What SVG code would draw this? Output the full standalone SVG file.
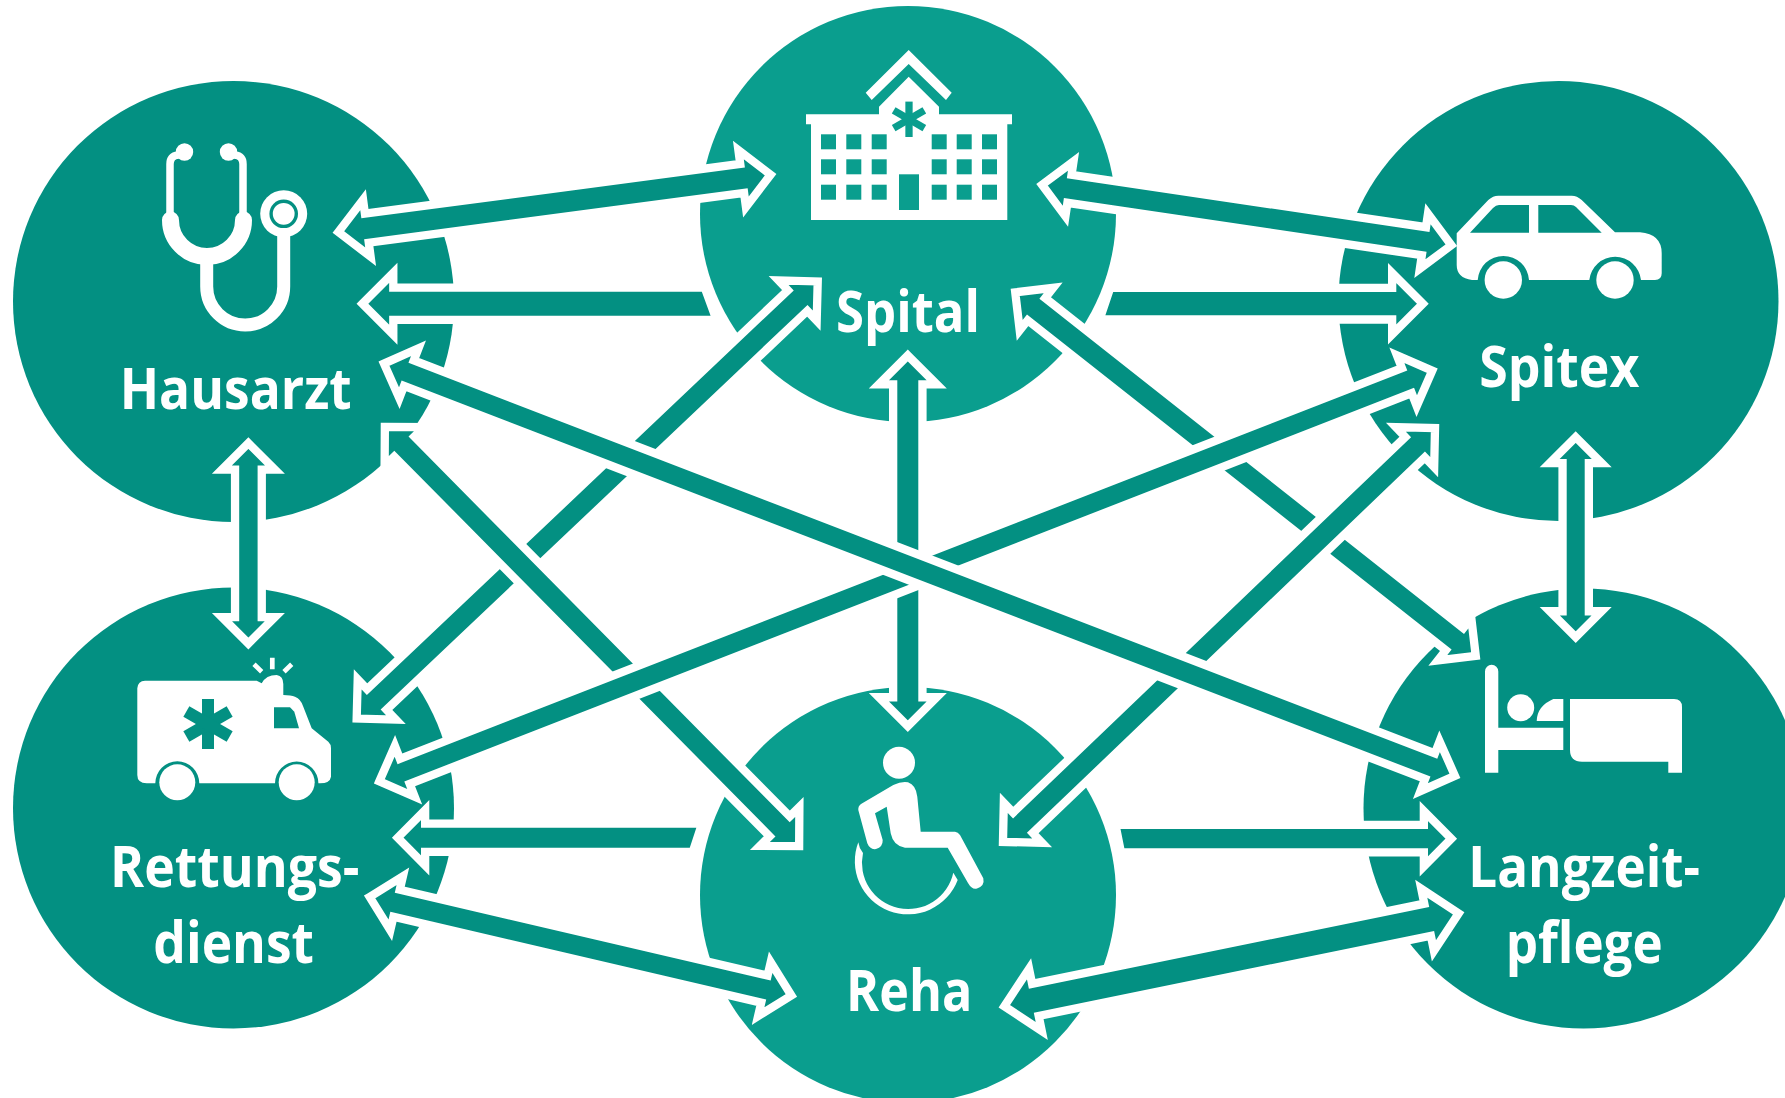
<svg xmlns="http://www.w3.org/2000/svg" width="1785" height="1098" viewBox="0 0 1785 1098">
<style>
.dk{fill:#039082}.lt{fill:#0a9e8e}
.w{fill:#fff}
.ws{fill:none;stroke:#fff}
.a{fill:#039082;stroke:#fff;stroke-width:8.3;stroke-miterlimit:10;stroke-linejoin:miter}
text{font-family:"Open Sans","Noto Sans","Liberation Sans",sans-serif;font-weight:700;font-size:57px;fill:#fff}
</style>
<rect width="1785" height="1098" fill="#fff"/>
<g id="node-hausarzt">
<circle class="dk" cx="233.5" cy="301.5" r="220.5"/>
<g class="ws" stroke-linecap="round">
<path stroke-width="7.5" d="M170 216V164Q170 156 178 155M243 216V164Q243 156 235 155"/>
<path stroke-width="17" d="M170.5 220A36.5 36.5 0 0 0 243.5 220"/>
<path stroke-width="13" stroke-linecap="butt" d="M206.7 258V286.5A38.5 38.5 0 0 0 283.7 286.5V232"/>
</g>
<circle class="w" cx="184.5" cy="152" r="8.7"/><circle class="w" cx="228.5" cy="152" r="8.7"/>
<circle class="w" cx="283.7" cy="213.8" r="23.5"/><circle class="dk" cx="283.7" cy="213.8" r="14.3"/><circle class="w" cx="283.7" cy="213.8" r="10.9"/>
<text x="119.7" y="409" textLength="232" lengthAdjust="spacingAndGlyphs">Hausarzt</text>
</g>
<g id="node-spital">
<circle class="lt" cx="908" cy="214" r="208"/>
<path class="w" d="M908.7 50L951.7 92.7L946 100L908.7 64L871.7 100L865.7 92.7Z"/>
<path class="w" d="M806 114.3H879V106.7L908.7 76.7L939 106.7V114.3H1012V124.3H1007.3V220H811V124.3H806Z"/>
<g class="lt">
<rect x="821" y="134.3" width="15" height="15"/><rect x="846.3" y="134.3" width="15" height="15"/><rect x="871.7" y="134.3" width="15" height="15"/>
<rect x="931.7" y="134.3" width="15" height="15"/><rect x="956.7" y="134.3" width="15" height="15"/><rect x="982" y="134.3" width="15" height="15"/>
<rect x="821" y="159.3" width="15" height="15"/><rect x="846.3" y="159.3" width="15" height="15"/><rect x="871.7" y="159.3" width="15" height="15"/>
<rect x="931.7" y="159.3" width="15" height="15"/><rect x="956.7" y="159.3" width="15" height="15"/><rect x="982" y="159.3" width="15" height="15"/>
<rect x="821" y="184.7" width="15" height="15"/><rect x="846.3" y="184.7" width="15" height="15"/><rect x="871.7" y="184.7" width="15" height="15"/>
<rect x="931.7" y="184.7" width="15" height="15"/><rect x="956.7" y="184.7" width="15" height="15"/><rect x="982" y="184.7" width="15" height="15"/>
<rect x="899" y="174.3" width="20" height="35.7"/>
</g>
<g stroke="#0a9e8e" stroke-width="7.3" transform="translate(909 119.3)"><path d="M0 -17.7V17.7"/><path d="M0 -17.7V17.7" transform="rotate(60)"/><path d="M0 -17.7V17.7" transform="rotate(120)"/></g>
<text x="836" y="331.7" textLength="144" lengthAdjust="spacingAndGlyphs">Spital</text>
</g>
<g id="node-spitex">
<circle class="dk" cx="1558.5" cy="301" r="220"/>
<path class="w" d="M1456.7 233.3L1488.3 200Q1493 195.7 1498.3 195.7H1571.7Q1577 195.7 1581.7 200L1615 232.3H1640Q1661.7 234 1661.7 253.3V273.3Q1661.7 280 1655 280H1641A26 26 0 0 0 1589.3 280H1529A25.7 25.7 0 0 0 1477.7 280H1472Q1456.7 278 1456.7 265Z"/>
<circle class="w" cx="1503.3" cy="280" r="18.7"/><circle class="w" cx="1615" cy="280" r="18.7"/>
<path class="dk" d="M1470 232.7L1493 208Q1496 205 1499 205H1529V232.7ZM1538.3 205H1571Q1574 205 1576 207L1601.7 232.7H1538.3Z"/>
<text x="1479.3" y="386.7" textLength="160" lengthAdjust="spacingAndGlyphs">Spitex</text>
</g>
<g id="node-rettungsdienst">
<circle class="dk" cx="233.5" cy="808" r="220.5"/>
<path class="w" d="M137.3 688.3Q138 680.7 145 680.7H256.7L261.7 683.3Q266 675 276.7 675Q283.3 676 283.3 684V695Q291 695 295 696.7Q301 699 303.3 706.7L311.7 728.3L328.3 741.7Q331 744 331 748.3V776.7Q330 783.3 320 783.3H318.4A21.7 21.7 0 0 0 275 783.3H199.3A22 22 0 0 0 155.3 783.3H146.7Q137.3 783 137.3 775Z"/>
<circle class="w" cx="177.3" cy="782.3" r="18"/><circle class="w" cx="296.7" cy="782.3" r="18"/>
<path class="dk" d="M274 707.3H290L294.3 711.7L299 728.3H274Z"/>
<g stroke="#039082" stroke-width="12" transform="translate(208 724)"><path d="M0 -25V25"/><path d="M0 -25V25" transform="rotate(60)"/><path d="M0 -25V25" transform="rotate(120)"/></g>
<path class="ws" stroke-width="4.7" d="M272.3 657.7V669.3M254 664.3L261.7 671.7M291.7 664.3L284 671.7"/>
<text x="110" y="886.7" textLength="249.3" lengthAdjust="spacingAndGlyphs">Rettungs-</text>
<text x="153.3" y="963.3" textLength="160.7" lengthAdjust="spacingAndGlyphs">dienst</text>
</g>
<g id="node-reha">
<circle class="lt" cx="908" cy="895" r="208"/>
<circle class="w" cx="899" cy="762.7" r="16"/>
<path class="w" d="M858.3 810Q858 806 861 804L893.3 785Q901.7 781 908 782.3Q916 785 917.3 796.7L920.7 831.7H955Q958 832 960 835L983.3 878.3Q985 886 977 888.5Q972 890 968 883L947.7 847.7H905Q893.3 846 890.7 833.3L886.7 806.7L875 813.3L882.7 840Q883 847 876 849Q870 850 867.3 843.3Z"/>
<path class="w" d="M858.3 842.3A52.5 52.5 0 1 0 957.7 880L953.3 872.7A45 45 0 0 1 863 853Q859 848 858.3 842.3Z"/>
<text x="846" y="1010.7" textLength="126.3" lengthAdjust="spacingAndGlyphs">Reha</text>
</g>
<g id="node-langzeitpflege">
<circle class="dk" cx="1583.5" cy="808.5" r="220"/>
<path class="w" d="M1485 671.5A6.65 6.65 0 0 1 1498.3 671.5V727.7H1563.3V750H1498.3V772.7H1485Z"/>
<circle class="w" cx="1520.7" cy="707.7" r="13.5"/>
<path class="w" d="M1536.7 721Q1537 706 1553.3 699H1563.3V721Z"/>
<path class="w" d="M1570 699H1674Q1682 699 1682 707V772.7H1668.3V761.7H1582Q1570 761.7 1570 750Z"/>
<text x="1468.3" y="886.7" textLength="231.7" lengthAdjust="spacingAndGlyphs">Langzeit-</text>
<text x="1505.7" y="963.3" textLength="157" lengthAdjust="spacingAndGlyphs">pflege</text>
</g>
<g id="connectors">
<path class="a" id="hausarzt-spital-2" d="M362.4 303.7L393.3 272.7V287.55H704.7L716.5 319.85H393.3V334.7Z"/>
<path class="a" id="spital-spitex-2" d="M1422.85 303.7L1392.15 273V287.9H1110.2L1099.6 319.5H1392.15V334.4Z"/>
<path class="a" id="rettung-reha-2" d="M397.75 837.7L425.15 810V823.55H702.1L692.8 851.85H425.15V865.4Z"/>
<path class="a" id="reha-langzeit-2" d="M1451.25 838.65L1423.85 811V824.85H1115.45L1121 852.45H1423.85V866.3Z"/>
<path class="a" id="hausarzt-spital" transform="translate(554.5 203.35) rotate(-7.55)" d="M-218 0L-189.3 -28.7V-14.65H189.3V-28.7L218 0L189.3 28.7V14.65H-189.3V28.7Z"/>
<path class="a" id="spital-spitex" transform="translate(1246.7 215) rotate(8.4)" d="M-206.85 0L-179.15 -27.7V-14.15H179.15V-27.7L206.85 0L179.15 27.7V14.15H-179.15V27.7Z"/>
<path class="a" id="rettung-reha" transform="translate(580.5 946.2) rotate(13.15)" d="M-216.55 0L-188.85 -27.7V-13.9H188.85V-27.7L216.55 0L188.85 27.7V13.9H-188.85V27.7Z"/>
<path class="a" id="reha-langzeit" transform="translate(1231.5 959.8) rotate(-11.55)" d="M-231.85 0L-200.15 -31.7V-16.4H200.15V-31.7L231.85 0L200.15 31.7V16.4H-200.15V31.7Z"/>
<path class="a" id="hausarzt-rettung" transform="translate(248.4 543.35) rotate(90)" d="M-100.2 0L-73.7 -26.5V-13.35H73.7V-26.5L100.2 0L73.7 26.5V13.35H-73.7V26.5Z"/>
<path class="a" id="spitex-langzeit" transform="translate(1575.7 537.2) rotate(90)" d="M-100.05 0L-74.05 -26V-13.15H74.05V-26L100.05 0L74.05 26V13.15H-74.05V26Z"/>
<path class="a" id="spital-reha" transform="translate(907.8 540.85) rotate(90)" d="M-185.4 0L-156.4 -29V-14.65H156.4V-29L185.4 0L156.4 29V14.65H-156.4V29Z"/>
<path class="a" id="spital-langzeit" transform="translate(1245.5 474.15) rotate(38.29)" d="M-293.35 0L-266.35 -27V-14.15H266.35V-27L293.35 0L266.35 27V14.15H-266.35V27Z"/>
<path class="a" id="rettung-spital" transform="translate(587.2 500) rotate(-43.47)" d="M-317.65 0L-289.95 -27.7V-14.15H289.95V-27.7L317.65 0L289.95 27.7V14.15H-289.95V27.7Z"/>
<path class="a" id="hausarzt-reha" transform="translate(592 636.5) rotate(45.34)" d="M-294.7 0L-267 -27.7V-14.15H267V-27.7L294.7 0L267 27.7V14.15H-267V27.7Z"/>
<path class="a" id="reha-spitex" transform="translate(1219 635) rotate(-43.77)" d="M-299.15 0L-271.45 -27.7V-14.15H271.45V-27.7L299.15 0L271.45 27.7V14.15H-271.45V27.7Z"/>
<path class="a" id="rettung-spitex" transform="translate(905.8 576) rotate(-21.3)" d="M-565.05 0L-537.75 -27.3V-13.45H537.75V-27.3L565.05 0L537.75 27.3V13.45H-537.75V27.3Z"/>
<path class="a" id="hausarzt-langzeit" transform="translate(919.45 569.7) rotate(21.05)" d="M-573.75 0L-547.05 -26.7V-13.65H547.05V-26.7L573.75 0L547.05 26.7V13.65H-547.05V26.7Z"/>
</g>
</svg>
